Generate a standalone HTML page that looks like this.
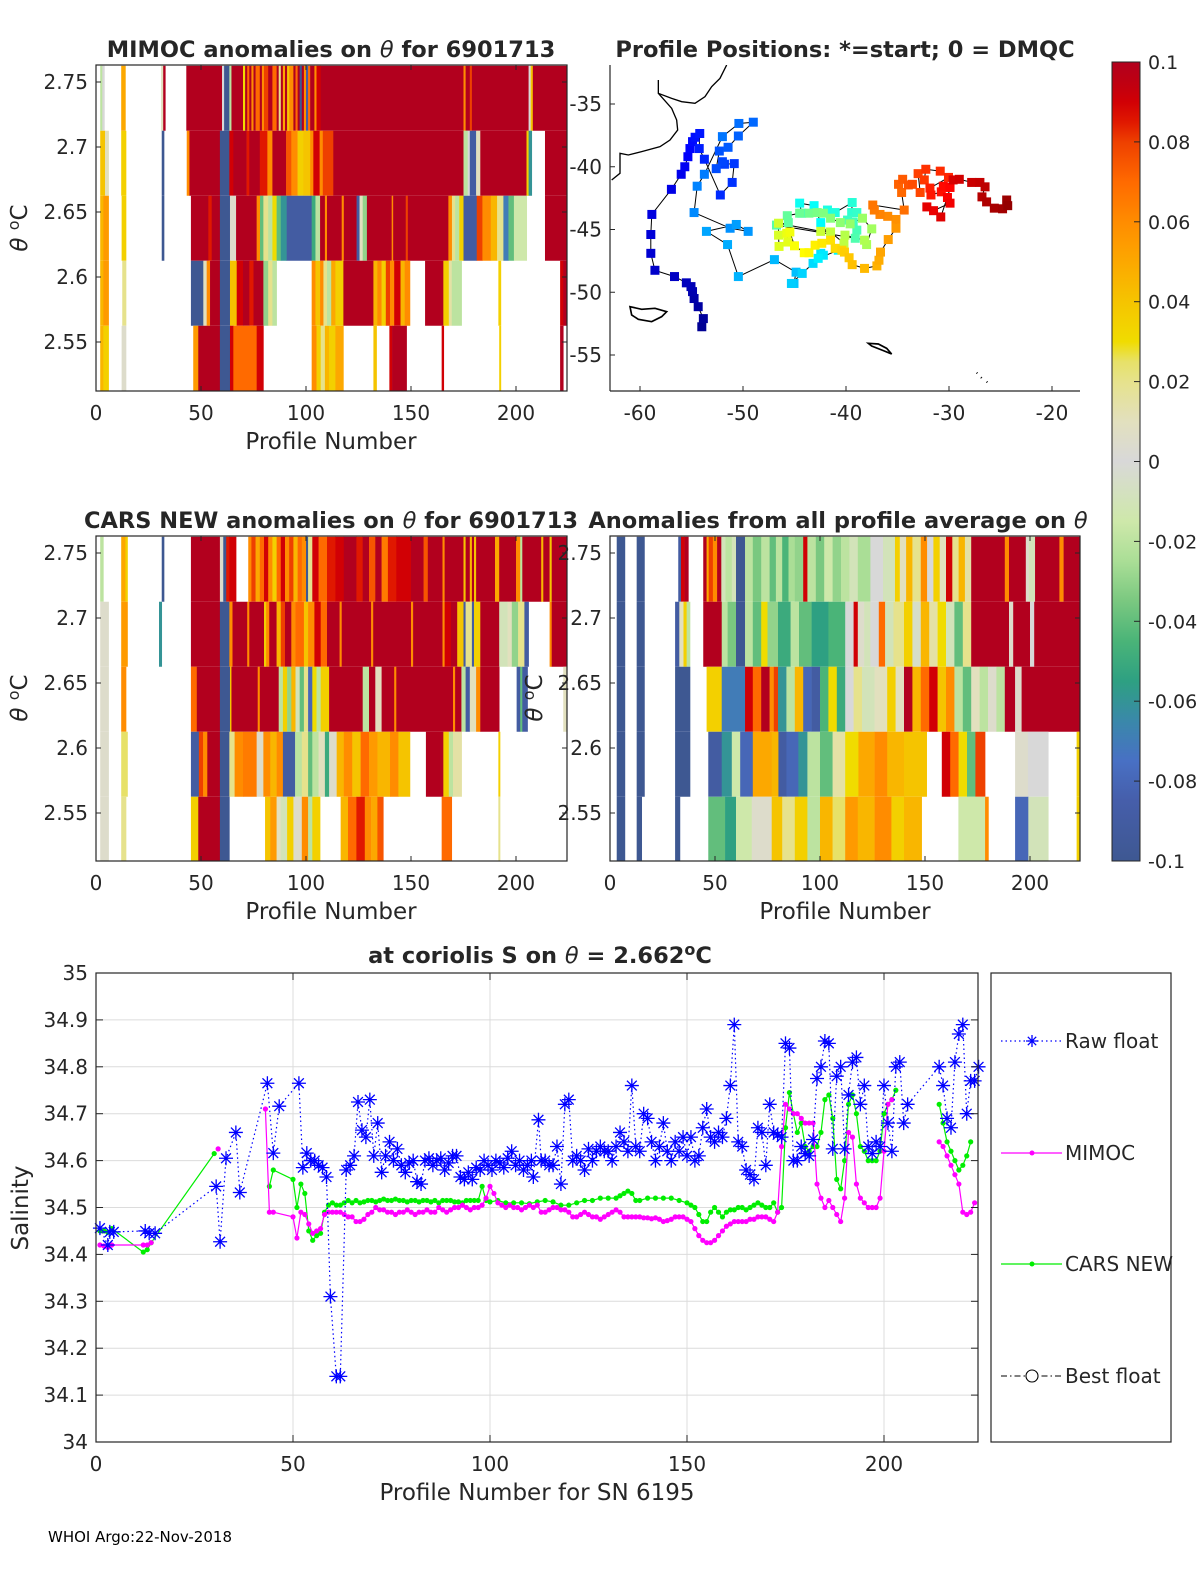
<!DOCTYPE html>
<html><head><meta charset="utf-8">
<style>
html,body{margin:0;padding:0;background:#fff;}
svg{display:block;font-family:"DejaVu Sans","Liberation Sans",sans-serif;}
</style></head>
<body>
<svg id="fig" width="1200" height="1575" viewBox="0 0 1200 1575" xmlns="http://www.w3.org/2000/svg">
<rect x="0" y="0" width="1200" height="1575" fill="#fff"/>
<defs>
<clipPath id="clipP1"><rect x="96" y="65" width="471" height="326"/></clipPath>
<clipPath id="clipP3"><rect x="96" y="536" width="471" height="325"/></clipPath>
<clipPath id="clipP4"><rect x="610" y="536" width="470" height="325"/></clipPath>
<clipPath id="clipMap"><rect x="610" y="65" width="470" height="326"/></clipPath>
<linearGradient id="cbGrad" x1="0" y1="1" x2="0" y2="0"></linearGradient>
</defs>
<g id="layer"></g>
<g clip-path="url(#clipMap)">
<g transform="translate(605,60) scale(0.33333)" fill="none" stroke="#000" stroke-width="4">
<path d="M365,15 L345,55 L320,80 L300,110 L270,130 L230,125 L200,115 L160,100 L160,60"/>
<path d="M160,100 L200,145 L215,180 L218,210 L195,240 L165,260 L110,275 L70,285 L45,280 L45,340 L20,360"/>
<path d="M75,740 L110,748 L150,745 L185,755 L170,770 L140,785 L100,778 L80,765 Z" stroke-width="5"/>
<path d="M790,850 L820,852 L845,865 L860,882 L835,872 L800,858 Z" stroke-width="5"/>
<path d="M1115,938 L1117,940 M1128,952 L1130,954 M1145,965 L1147,967" stroke-width="6"/>
</g></g>
</svg>
<script>
const thetaEdges = [2.7625, 2.7125, 2.6625, 2.6125, 2.5625, 2.5125];
const mimocRows = [
[[2,3,-.02],[3,4,0],[12,14,.05],[31,32,.01],[32,33,.1],[43,60,.1],[60,61,0],[61,63.5,-.1],[63.5,64.5,-.02],[64.5,70,.1],[70,71,.03],[71,72,.1],[72,73,.07],[73,74,.1],[74,75,.06],[75,76,.1],[76,78,.07],[78,79,.1],[79,80,.06],[80,82,.08],[82,84,.1],[84,86,.07],[86,87,.1],[87,88,.02],[88,89,.1],[89,90,.05],[90,91,.1],[91,92,.04],[92,94,.06],[94,95,.1],[95,96,.07],[96,97,.1],[97,98,-.1],[98,99,.1],[99,100,.06],[100,101,-.09],[101,102,.07],[102,104,.1],[104,105,.06],[105,107,.09],[107,175,.1],[175,176,.06],[176,178,.1],[178,179,.08],[179,206,.1],[206,207,0],[207,208,.04],[208,224,.1]],
[[2,4.3,.04],[4.3,6,.01],[12,14.3,.035],[31.3,32.4,-.1],[43.2,44.5,.06],[44.5,59,.1],[59,63.5,-.1],[63.5,65.4,.09],[65.4,71.7,.1],[71.7,73,.085],[73,78,.1],[78,81.6,.085],[81.6,84,.06],[84,90.5,.1],[90.5,93,.075],[93,96,.06],[96,98.7,.035],[98.7,102,.04],[102,103.5,.06],[103.5,106.5,.09],[106.5,108,.06],[108,113,.08],[113,175,.1],[175,177,-.02],[177,178,0],[178,181,-.09],[181,183,.01],[183,205,.1],[205,206,.035],[206,207.5,-.06],[213.8,224,.1]],
[[2,3.5,.045],[3.5,6,.055],[12.2,14.3,.035],[31.3,32.4,-.1],[45.2,53.5,.1],[53.5,55.1,.085],[55.1,59,.1],[59,63.8,-.1],[63.8,66.7,.005],[66.7,76.5,.1],[76.5,78.1,.06],[78.1,79.7,-.04],[79.7,82,.02],[82,84,-.02],[84,86,.03],[86,88,-.04],[88,90.8,-.06],[90.8,102.7,-.09],[102.7,104.5,-.05],[104.5,106.7,-.02],[106.7,109,.1],[109,110,.06],[110,117,.1],[117,118,.06],[118,124.1,.1],[124.1,125.5,-.09],[125.5,127,.01],[127,129,-.03],[129,140.8,.1],[140.8,141.5,.06],[141.5,147.5,.1],[147.5,148.5,.08],[148.5,167.8,.1],[167.8,169.5,.06],[169.5,171,.02],[171,173,-.02],[173,175,.035],[175,181.3,-.09],[181.3,184,.08],[184,188,.06],[188,191,.045],[191,194,.02],[194,196.4,-.07],[196.4,199,-.04],[199,205.1,-.015],[213.8,224,.1]],
[[2,3.5,.045],[3.5,6,.055],[12.5,14.3,.02],[45.2,51.1,-.1],[51.1,52.7,.01],[52.7,54.3,.06],[54.3,59,.1],[59,63.8,-.1],[63.8,67,.04],[67,70,.09],[70,73,.1],[73,75,.085],[75,79.7,.1],[79.7,82,-.03],[82,84,.02],[84,86,-.02],[102.7,104.5,.06],[104.5,106.7,.04],[106.7,108.3,.06],[108.3,110,.02],[110,112,-.02],[112,114,.05],[114,117.8,.035],[117.8,132.1,.1],[132.1,134,.045],[134,136,.06],[136,138,.035],[138,140,.08],[140,142,.06],[142,145,.09],[145,147,.045],[147,149.5,.06],[156.7,165.4,.1],[165.4,168,.035],[168,169.4,.015],[169.4,174.1,-.02],[191.6,192.8,.035],[221,222.5,.09],[222.5,224,.1]],
[[2,3.5,.045],[3.5,6,.035],[12.2,14.3,.005],[46.3,48.7,.055],[48.7,59,.1],[59,63.8,-.1],[63.8,65.4,.09],[65.4,76.5,.07],[76.5,79.7,.09],[102.7,105,.06],[105,107,.035],[107,109,.02],[109,111,.045],[111,114,.035],[114,117.8,.05],[132.1,133.6,.04],[139.7,141,.09],[141,147.9,.1],[164.6,165.6,.09],[192,192.8,.035],[221,222.5,.1]]
];
const carsRows = [
[[2,3.5,-.02],[12,14,.05],[14,15,.035],[31.3,32.4,-.1],[45.2,59,.1],[59,60.6,.005],[60.6,62,-.1],[62,63.5,.085],[63.5,66.7,.09],[72.5,74,.06],[74,76,.08],[76,78,.05],[78,80,.07],[80,82,.09],[82,84,.06],[84,86,.035],[86,88,.07],[88,90,.09],[90,92,.06],[92,94,.08],[94,96,.045],[96,98,.07],[98,100,.06],[100,101,-.1],[101,103,.02],[103,106,.09],[106,110,.07],[110,114,.085],[114,118,.09],[118,124,.1],[124,127,.085],[127,130,.1],[130,133,.075],[133,136,.1],[136,139,.065],[139,143,.085],[143,150,.09],[150,156,.1],[156,158,.075],[158,165,.1],[165,166,.06],[166,175,.1],[175,176,.04],[176,178,.1],[178,179,.045],[179,180,.1],[180,181,.04],[181,190,.1],[190,192,.05],[192,200,.1],[200,202,.06],[202,203,-.02],[203,212,.1],[212,213,.045],[213,216,.1],[216,217,.04],[217,224,.1]],
[[2,6,.005],[12,15,.055],[30,31.3,-.06],[45.2,59,.1],[59,63.5,-.1],[63.5,65,.06],[65,72,.1],[72,73,.06],[73,80,.1],[80,81,.035],[81,82.5,.06],[82.5,86,.1],[86,88,.045],[88,90,.08],[90,93,.1],[93,95,.06],[95,99,.07],[99,101,.04],[101,104,.06],[104,107,.09],[107,110,.07],[110,116,.1],[116,117,.06],[117,131,.1],[131,132,.06],[132,150,.1],[150,151,.06],[151,165,.1],[165,166,.06],[166,169,.09],[169,172,.1],[172,175,.04],[175,176,-.09],[176,179,.02],[179,180,-.09],[180,183,.035],[183,192,.1],[192,196,-.01],[196,198,.01],[198,201,-.03],[201,204,.02],[204,206,-.09],[216,217,.06],[217,224,.1]],
[[2,6,.005],[12,14.3,.06],[45.2,48,.07],[48,59,.1],[59,63.8,-.1],[63.8,64.5,.04],[64.5,77,.1],[77,78,.06],[78,87,.1],[87,89,-.02],[89,91,.035],[91,93,-.03],[93,95,.045],[95,97,-.01],[97,99,-.04],[99,101,.02],[101,103,-.08],[103,105,.03],[105,107,-.02],[107,111,.035],[111,127,.1],[127,130,-.02],[130,133,.1],[133,136,.01],[136,142,.1],[142,143,.06],[143,170,.1],[170,171,.06],[171,174,.1],[174,176,-.02],[176,178,-.09],[178,181,.01],[181,183,.06],[183,192,.1],[200.3,202,-.09],[202,203,-.04],[203,205.5,-.09],[222.5,224,.01]],
[[2,6,.005],[12,15,.025],[45.2,49,-.09],[49,51,.08],[51,53,.06],[53,59,.1],[59,63.5,-.1],[63.5,66,.02],[66,70,.06],[70,76.5,.065],[76.5,79.7,.005],[79.7,83,.06],[83,86,.045],[86,89,.06],[89,94.8,-.09],[94.8,98,-.02],[98,101,.02],[101,103,-.04],[103,106,-.02],[106,109,.01],[109,111,-.05],[111,114.6,.005],[114.6,118,.045],[118,122,.06],[122,126,.04],[126,130,.07],[130,134,.055],[134,140,.045],[140,144,.06],[144,149.5,.04],[157.1,165.4,.1],[165.4,168,.035],[168,170,-.02],[170,174.1,.015],[191.6,192.4,.035]],
[[2,6,.005],[12,14.3,.02],[45.2,48.7,.035],[48.7,59,.1],[59,63.5,-.1],[80.5,83,.04],[83,86,.055],[86,88,.01],[88,91,-.01],[91,94,.035],[94,98,.005],[98,101,.06],[101,103,-.02],[103,106.7,.035],[116.5,120,.045],[120,124,.07],[124,128,.085],[128,131,.06],[131,134,.05],[134,136.8,.075],[164.6,169.4,.07],[191.6,192.4,.02]]
];
const avgRows = [
[[3.2,7.1,-.1],[12.7,16.4,-.1],[32.5,33.8,-.09],[33.8,35.5,.09],[35.5,37.3,.1],[44.4,46,.1],[46,47,.05],[47,49,.08],[49,51,.06],[51,53,.1],[53,55,-.01],[55,58,-.02],[58,60,-.01],[60,64.3,-.1],[64.3,68,-.02],[68,72,-.035],[72,76,-.02],[76,79,-.04],[79,82,-.02],[82,85,-.045],[85,88,-.025],[88,92,-.03],[92,94,.09],[94,98,-.02],[98,102,-.035],[102,106,-.015],[106,110,-.03],[110,114,-.02],[114,118,-.01],[118,124,-.025],[124,130,0],[130,135.7,-.01],[135.7,138,.035],[138,141,.01],[141,144,.045],[144,148,.02],[148,151,.06],[151,154,0],[154,157,.035],[157,160,.01],[160,163,.09],[163,166,.02],[166,169,.045],[169,172,.015],[172,188,.1],[188,190,.06],[190,198,.1],[198,199.5,.005],[199.5,202.4,-.01],[202.4,214,.1],[214,216,.06],[216,224,.1]],
[[3.2,7.1,-.1],[12.7,16.4,-.1],[31,33,-.09],[33,35,.01],[35,36.5,.035],[36.5,38.1,-.02],[44.4,53.2,.1],[53.2,56,-.02],[56,60,-.035],[60,64.3,-.1],[64.3,68,-.02],[68,72,-.04],[72,75,.03],[75,80,-.03],[80,86,-.05],[86,90,-.02],[90,96,-.04],[96,104,-.055],[104,112,-.045],[112,116,0],[116,118,.09],[118,121,.005],[121,124,-.01],[124,128,0],[128,131,.07],[131,135,-.01],[135,140,.02],[140,144,.035],[144,148,-.005],[148,152,.045],[152,156,.015],[156,160,.03],[160,164,-.01],[164,168,-.04],[168,172,.02],[172,190,.1],[190,192,.005],[192,200,.1],[200,202,0],[202,224,.1]],
[[3.2,7.1,-.1],[12.7,16.4,-.1],[31,38.1,-.1],[46,53.2,.035],[53.2,64.3,-.07],[64.3,68,.09],[68,72,.07],[72,76,.1],[76,78,.06],[78,80,.08],[80,84,-.06],[84,88,-.02],[88,92,.045],[92,96,-.08],[96,100,-.09],[100,104,-.045],[104,108,.03],[108,112,-.05],[112,116,0],[116,120,.02],[120,126,-.01],[126,132,.01],[132,136,.035],[136,140,.01],[140,144,.1],[144,148,.045],[148,152,.07],[152,156,.09],[156,160,.04],[160,164,.06],[164,168,-.02],[168,172,-.04],[172,176,.01],[176,180,-.02],[180,184,.005],[184,188,-.02],[188,192.9,.1],[192.9,196,.005],[196,224,.1]],
[[3.2,7.1,-.1],[12.7,16.4,-.1],[31,38.1,-.1],[46.8,53.2,-.09],[53.2,58,-.06],[58,62,-.015],[62,68,-.08],[68,77,.05],[77,80.2,.045],[80.2,84,-.09],[84,89.7,-.08],[89.7,94,-.06],[94,100,-.02],[100,106,-.04],[106,112,.015],[112,118.3,.03],[118.3,126,.05],[126,132,.06],[132,140,.045],[140,150.8,.04],[158,162,.09],[162,166,.07],[166,170,.03],[170,174,-.04],[174,178.6,.08],[192.9,199,.005],[199,208.7,0],[222.2,223.8,.035]],
[[3.2,7.1,-.1],[12.7,15.1,-.1],[31,33.3,-.1],[46.8,54.8,-.04],[54.8,60,-.055],[60,67.5,-.015],[67.5,77,.005],[77,82,.04],[82,88,.02],[88,94,.035],[94,100,-.02],[100,106,.045],[106,112,.025],[112,118,.055],[118,126,.045],[126,134,.06],[134,140,.035],[140,148.4,.045],[165.9,178.6,-.015],[178.6,180.2,.06],[192.9,199.2,-.08],[199.2,208.7,-.01],[222.2,223.8,.035]]
];
const thetaTicks = [2.55, 2.6, 2.65, 2.7, 2.75];
const thetaTickLabels = ["2.55","2.6","2.65","2.7","2.75"];
const profTicks = [0, 50, 100, 150, 200];
const cbTicks = [0.1,0.08,0.06,0.04,0.02,0,-0.02,-0.04,-0.06,-0.08,-0.1];
const cbTickLabels = ["0.1","0.08","0.06","0.04","0.02","0","-0.02","-0.04","-0.06","-0.08","-0.1"];

const trackLon = [-54.0,-53.85,-54.35,-54.75,-54.9,-55.05,-55.5,-56.65,-58.55,-58.95,-58.95,-58.85,-56.95,-56.0,-55.65,-55.35,-55.15,-54.9,-54.65,-54.2,-54.25,-53.75,-52.2,-51.05,-50.85,-51.8,-52.0,-52.6,-52.3,-51.45,-50.45,-49.0,-50.4,-52.0,-53.75,-54.45,-54.75,-51.25,-49.5,-50.65,-53.55,-51.5,-50.45,-46.95,-44.85,-45.05,-45.3,-44.25,-43.2,-42.45,-42.2,-42.7,-40.75,-42.45,-43.1,-44.5,-44.3,-41.8,-41.05,-39.4,-39.45,-38.95,-39.85,-39.3,-38.95,-39.1,-46.75,-45.6,-45.7,-44.5,-43.6,-42.8,-42.2,-41.5,-40.55,-39.6,-38.4,-37.5,-38.0,-38.2,-40.1,-40.2,-41.5,-42.45,-46.55,-46.55,-46.5,-45.65,-45.75,-45.45,-45.0,-44.05,-43.6,-43.0,-42.35,-41.5,-41.05,-40.4,-40.15,-39.7,-39.4,-38.2,-37.0,-36.8,-36.65,-35.9,-35.15,-35.15,-35.95,-36.7,-37.25,-37.4,-34.35,-34.6,-34.9,-34.5,-33.95,-33.55,-32.8,-33.0,-32.4,-32.25,-30.85,-30.05,-31.85,-31.75,-30.75,-30.55,-29.9,-30.15,-29.9,-31.5,-32.15,-30.8,-29.6,-29.0,-27.8,-27.0,-26.5,-26.8,-26.35,-25.6,-24.8,-24.4,-24.3];
const trackLat = [-52.75,-52.1,-51.15,-50.5,-49.95,-49.55,-49.25,-48.75,-48.25,-46.9,-45.4,-43.8,-41.8,-40.6,-40.0,-39.2,-38.55,-38.0,-37.65,-37.35,-38.55,-39.4,-42.25,-41.25,-39.75,-39.8,-39.6,-40.15,-38.75,-38.45,-37.55,-36.45,-36.55,-37.6,-40.6,-41.55,-43.65,-44.9,-45.15,-44.6,-45.15,-46.2,-48.75,-47.4,-48.4,-49.3,-49.3,-48.5,-47.7,-46.9,-47.05,-47.3,-46.65,-44.45,-43.1,-42.9,-43.7,-43.45,-43.65,-42.85,-43.65,-43.65,-44.25,-44.4,-45.05,-45.7,-44.65,-44.45,-43.9,-43.7,-43.7,-43.65,-43.7,-44.1,-44.45,-44.55,-44.1,-44.95,-46.2,-45.85,-45.45,-46.1,-45.2,-45.15,-44.5,-45.45,-46.35,-46.0,-45.3,-45.2,-46.3,-46.85,-46.85,-46.25,-46.1,-45.85,-46.5,-46.65,-46.8,-47.25,-47.8,-48.1,-47.9,-47.45,-46.8,-45.8,-44.9,-44.2,-43.95,-43.8,-43.45,-43.05,-43.45,-42.05,-41.4,-41.0,-41.45,-41.4,-42.05,-40.55,-41.05,-40.2,-40.35,-40.85,-41.7,-42.25,-42.0,-41.55,-41.65,-42.45,-42.9,-43.5,-43.2,-44.0,-41.05,-41.0,-41.25,-41.25,-41.6,-42.4,-42.8,-43.3,-43.35,-42.65,-43.1];
const lonTicks = [-60,-50,-40,-30,-20];
const latTicks = [-35,-40,-45,-50,-55];

const rawP = [1,3,3.5,4.5,12.5,13.5,15,30.5,31.5,33,35.5,36.5,43.5,45,46.5,51.5,52.5,53.5,54.5,55.5,56.5,57.5,58.5,59.5,61,62,63.5,64.5,65.5,66.5,67.5,68.5,69.5,70.5,71.5,72.5,73.5,74.5,75.5,76.5,77.5,78.5,79.5,80.5,81.5,82.5,83.5,84.5,85.5,86.5,87.5,88.5,89.5,90.5,91.5,92.5,93.5,94.5,95.5,96.5,97.5,98.5,99.5,100.5,101.5,102.5,103.5,104.5,105.5,106.5,107.5,108.5,109.5,110.5,111,112.3,113,114,115,116,117,118,119,120,121,122,123,124,125,126,127,128,129,130,131,132,133,134,135,136,137,138,139,140,141,142,143,144,145,146,147,148,149,150,151,152,153,154,155,156,157,158,159,160,161,162,163,164,165,166,167,168,169,170,171,172,173,174,175,176,177,178,179,180,181,182,183,184,185,186,187,188,189,190,191,192,193,194,195,196,197,198,199,200,201,202,203,204,205,206,214,215,216,217,218,219,220,221,222,223,224];
const rawS = [34.456,34.42,34.448,34.448,34.45,34.445,34.445,34.545,34.427,34.605,34.66,34.532,34.765,34.616,34.716,34.765,34.585,34.616,34.6,34.6,34.59,34.585,34.565,34.31,34.14,34.14,34.58,34.59,34.61,34.725,34.665,34.65,34.73,34.61,34.68,34.575,34.61,34.64,34.6,34.625,34.59,34.575,34.595,34.6,34.555,34.55,34.6,34.605,34.59,34.6,34.605,34.58,34.595,34.61,34.61,34.565,34.56,34.575,34.56,34.585,34.58,34.6,34.59,34.58,34.6,34.595,34.585,34.605,34.62,34.59,34.6,34.58,34.59,34.6,34.565,34.687,34.6,34.6,34.59,34.59,34.63,34.55,34.72,34.73,34.6,34.61,34.6,34.58,34.625,34.6,34.62,34.63,34.62,34.62,34.6,34.63,34.66,34.64,34.62,34.76,34.63,34.62,34.7,34.69,34.64,34.6,34.63,34.68,34.62,34.6,34.64,34.62,34.65,34.61,34.65,34.6,34.61,34.67,34.71,34.65,34.64,34.66,34.65,34.69,34.76,34.89,34.64,34.63,34.58,34.57,34.56,34.67,34.66,34.59,34.72,34.66,34.655,34.65,34.85,34.84,34.6,34.6,34.63,34.615,34.61,34.645,34.775,34.8,34.855,34.85,34.625,34.78,34.8,34.625,34.74,34.81,34.82,34.72,34.76,34.63,34.615,34.64,34.63,34.76,34.68,34.62,34.8,34.81,34.68,34.72,34.8,34.76,34.69,34.67,34.81,34.87,34.89,34.7,34.77,34.77,34.8];
const mimocP = [1,2,3,4,12,13,14,null,31,null,43,44,45,50,51,52,53,54,55,56,57,58,59,60,61,62,63,64,65,66,67,68,69,70,71,72,73,74,75,76,77,78,79,80,81,82,83,84,85,86,87,88,89,90,91,92,93,94,95,96,97,98,99,100,101,102,103,104,105,106,107,108,109,110,111,112,113,114,115,116,117,118,119,120,121,122,123,124,125,126,127,128,129,130,131,132,133,134,135,136,137,138,139,140,141,142,143,144,145,146,147,148,149,150,151,152,153,154,155,156,157,158,159,160,161,162,163,164,165,166,167,168,169,170,171,172,173,174,175,176,177,178,179,180,181,182,183,184,185,186,187,188,189,190,191,192,193,194,195,196,197,198,199,200,201,202,null,214,215,216,217,218,219,220,221,222,223];
const mimocS = [34.42,34.418,34.415,34.42,34.42,34.42,34.425,null,34.625,null,34.71,34.49,34.49,34.48,34.435,34.49,34.485,34.465,34.445,34.45,34.455,34.485,34.49,34.49,34.49,34.49,34.485,34.48,34.48,34.47,34.47,34.475,34.485,34.49,34.5,34.495,34.495,34.49,34.49,34.485,34.49,34.49,34.495,34.49,34.485,34.49,34.49,34.495,34.49,34.49,34.5,34.495,34.49,34.495,34.5,34.5,34.505,34.5,34.495,34.5,34.5,34.505,34.52,34.545,34.53,34.51,34.505,34.5,34.505,34.5,34.5,34.495,34.5,34.505,34.5,34.505,34.49,34.49,34.495,34.5,34.5,34.495,34.495,34.49,34.48,34.48,34.485,34.49,34.485,34.48,34.48,34.475,34.48,34.485,34.49,34.495,34.49,34.48,34.48,34.48,34.48,34.48,34.478,34.478,34.476,34.478,34.475,34.47,34.472,34.475,34.48,34.48,34.48,34.475,34.47,34.455,34.44,34.43,34.425,34.425,34.43,34.44,34.45,34.46,34.465,34.47,34.47,34.47,34.47,34.475,34.475,34.48,34.48,34.48,34.475,34.47,34.49,34.63,34.72,34.71,34.7,34.7,34.69,34.68,34.68,34.68,34.55,34.52,34.5,34.515,34.5,34.485,34.47,34.52,34.66,34.65,34.55,34.52,34.51,34.5,34.5,34.5,34.52,34.62,34.72,34.73,null,34.64,34.63,34.61,34.59,34.57,34.55,34.49,34.485,34.49,34.51];
const carsP = [1,2,3,4,12,13,14,30,null,44,45,50,51,52,53,54,55,56,57,58,59,60,61,62,63,64,65,66,67,68,69,70,71,72,73,74,75,76,77,78,79,80,81,82,83,84,85,86,87,88,89,90,91,92,93,94,95,96,97,98,99,100,102,104,106,108,110,112,114,116,118,120,122,124,126,128,130,132,133,134,135,136,137,138,140,142,144,146,148,150,151,152,153,154,155,156,157,158,159,160,161,162,163,164,165,166,167,168,169,170,171,172,173,174,175,176,177,178,179,180,181,182,183,184,185,186,187,188,189,190,191,192,193,194,195,196,197,198,199,200,201,202,203,null,214,215,216,217,218,219,220,221,222];
const carsS = [34.45,34.45,34.447,34.455,34.405,34.41,34.425,34.615,null,34.545,34.58,34.56,34.5,34.55,34.53,34.45,34.43,34.44,34.445,34.49,34.505,34.51,34.505,34.505,34.51,34.515,34.51,34.515,34.51,34.512,34.515,34.515,34.512,34.515,34.518,34.515,34.515,34.518,34.515,34.515,34.512,34.515,34.515,34.512,34.515,34.515,34.512,34.515,34.51,34.515,34.515,34.515,34.512,34.512,34.51,34.515,34.515,34.515,34.515,34.545,34.515,34.512,34.515,34.51,34.51,34.51,34.508,34.512,34.515,34.512,34.505,34.505,34.51,34.515,34.515,34.52,34.52,34.52,34.525,34.53,34.535,34.53,34.515,34.515,34.52,34.52,34.52,34.52,34.515,34.51,34.505,34.5,34.485,34.47,34.47,34.49,34.5,34.49,34.48,34.49,34.495,34.495,34.5,34.5,34.495,34.5,34.505,34.51,34.505,34.5,34.5,34.51,34.49,34.5,34.67,34.745,34.7,34.66,34.68,34.63,34.62,34.63,34.63,34.66,34.73,34.74,34.69,34.56,34.54,34.6,34.72,34.74,34.7,34.63,34.62,34.6,34.6,34.6,34.62,34.7,34.72,34.73,34.75,null,34.72,34.68,34.64,34.62,34.6,34.58,34.59,34.61,34.64];
const salTicks = [34,34.1,34.2,34.3,34.4,34.5,34.6,34.7,34.8,34.9,35];
const salTickLabels = ["34","34.1","34.2","34.3","34.4","34.5","34.6","34.7","34.8","34.9","35"];
const legendLabels = ["Raw float","MIMOC","CARS NEW","Best float"];

const NS = "http://www.w3.org/2000/svg";
const layer = document.getElementById('layer');
const TICK = 20, TITLE = 22.5, ATITLE = 23;
function mk(tag, attrs, parent){
  const e = document.createElementNS(NS, tag);
  for (const k in attrs) e.setAttribute(k, attrs[k]);
  (parent || layer).appendChild(e);
  return e;
}
function txt(str, x, y, size, anchor, weight, parent){
  const t = mk('text', {x:x, y:y, 'font-size':size, 'text-anchor':anchor||'start', fill:'#262626', 'font-weight':weight||'normal'}, parent);
  t.textContent = str;
  return t;
}
const cmStops = [
[-0.1,[62,88,146]],[-0.085,[70,94,170]],[-0.075,[72,112,196]],[-0.065,[58,136,170]],[-0.055,[46,160,130]],[-0.045,[74,180,120]],[-0.035,[122,200,128]],[-0.025,[170,222,150]],[-0.015,[206,232,170]],[-0.005,[214,222,200]],
[0.0,[216,216,216]],[0.01,[226,224,190]],[0.02,[230,226,140]],[0.027,[232,224,90]],[0.03,[240,220,0]],[0.04,[245,196,0]],[0.05,[252,168,0]],[0.06,[255,140,0]],[0.07,[255,106,0]],[0.08,[238,64,0]],[0.088,[216,0,0]],[0.095,[190,0,18]],[0.1,[178,0,30]]];
function cmap(v){
  if (v <= cmStops[0][0]) return 'rgb('+cmStops[0][1].join(',')+')';
  for (let i=1;i<cmStops.length;i++){
    if (v <= cmStops[i][0]){
      const a=cmStops[i-1], b=cmStops[i], t=(v-a[0])/(b[0]-a[0]);
      const c=a[1].map((x,j)=>Math.round(x+(b[1][j]-x)*t));
      return 'rgb('+c.join(',')+')';
    }
  }
  return 'rgb('+cmStops[cmStops.length-1][1].join(',')+')';
}
function jet(t){
  const r = Math.max(0,Math.min(1,1.5-Math.abs(4*t-3)));
  const g = Math.max(0,Math.min(1,1.5-Math.abs(4*t-2)));
  const b = Math.max(0,Math.min(1,1.5-Math.abs(4*t-1)));
  return 'rgb('+Math.round(r*255)+','+Math.round(g*255)+','+Math.round(b*255)+')';
}

function heatPanel(rows, box, thetaTopY, clipId, name){
  const xS = p => box.x0 + p*2.1;
  const yT = t => thetaTopY + (2.75 - t)*1300;
  const g = mk('g', {'clip-path':'url(#'+clipId+')'});
  
  
  rows.forEach((runs, ri) => {
    const yTop = yT(thetaEdges[ri]), yBot = yT(thetaEdges[ri+1]);
    runs.forEach(r => {
      const c = mk('rect', {x:xS(r[0]), y:yTop, width:Math.max(0.6,xS(r[1])-xS(r[0])+0.3), height:yBot-yTop, fill:cmap(r[2])}, g);
      
      
    });
  });
  axesBox(box, name);
  profTicks.forEach(p => {
    const x = xS(p);
    mk('line', {x1:x, y1:box.y1, x2:x, y2:box.y1-5, stroke:'#262626', 'stroke-width':1});
    mk('line', {x1:x, y1:box.y0, x2:x, y2:box.y0+5, stroke:'#262626', 'stroke-width':1});
    const t = txt(String(p), x, box.y1+29, TICK, 'middle');
    
    
  });
  thetaTicks.forEach(v => {
    const y = yT(v);
    mk('line', {x1:box.x0, y1:y, x2:box.x0+5, y2:y, stroke:'#262626', 'stroke-width':1});
    mk('line', {x1:box.x1, y1:y, x2:box.x1-5, y2:y, stroke:'#262626', 'stroke-width':1});
  });
  return yT;
}
function yTickLabels(box, yT, name){
  thetaTicks.forEach((v,i) => {
    const t = txt(thetaTickLabels[i], box.x0-8, yT(v)+7, TICK, 'end');
    
    
  });
}
function axesBox(box, name){
  const r = mk('rect', {x:box.x0, y:box.y0, width:box.x1-box.x0, height:box.y1-box.y0, fill:'none', stroke:'#262626', 'stroke-width':1.2});
  
  
}
function thetaYLabel(x, y, name){
  const t = mk('text', {x:0, y:0, 'font-size':ATITLE, 'text-anchor':'middle', fill:'#262626', transform:'translate('+x+','+y+') rotate(-90)'});
  t.innerHTML = '<tspan font-style="italic">θ</tspan> <tspan dy="-8" font-size="16">o</tspan><tspan dy="8">C</tspan>';
  
  
}

const box1 = {x0:96, x1:567, y0:65, y1:391};
const box3 = {x0:96, x1:567, y0:536, y1:861};
const box4 = {x0:610, x1:1080, y0:536, y1:861};

const yT1 = heatPanel(mimocRows, box1, 82, 'clipP1', 'mimoc-panel');
const yT4 = heatPanel(avgRows, box4, 553, 'clipP4', 'average-panel');
const yT3 = heatPanel(carsRows, box3, 553, 'clipP3', 'cars-panel');
yTickLabels(box1, yT1, 'mimoc-panel');
yTickLabels(box3, yT3, 'cars-panel');
yTickLabels(box4, yT4, 'average-panel');
thetaYLabel(27, 228, 'mimoc-y-axis-title');
thetaYLabel(27, 698, 'cars-y-axis-title');
thetaYLabel(542, 698, 'average-y-axis-title');

let tt;
tt = txt('', 331, 57, TITLE, 'middle', 'bold'); tt.innerHTML = 'MIMOC anomalies on <tspan font-style="italic" font-weight="normal">θ</tspan>  for 6901713';
 
tt = txt('Profile Positions: *=start; 0 = DMQC', 845, 57, TITLE, 'middle', 'bold');
 
tt = txt('', 331, 528, TITLE, 'middle', 'bold'); tt.innerHTML = 'CARS NEW anomalies on <tspan font-style="italic" font-weight="normal">θ</tspan> for 6901713';
 
tt = txt('', 838, 528, TITLE, 'middle', 'bold'); tt.innerHTML = 'Anomalies from all profile average on <tspan font-style="italic" font-weight="normal">θ</tspan>';
 
tt = txt('Profile Number', 331, 449, ATITLE, 'middle');
 
tt = txt('Profile Number', 331, 919, ATITLE, 'middle');
 
tt = txt('Profile Number', 845, 919, ATITLE, 'middle');
 

const boxM = {x0:610, x1:1080, y0:65, y1:391};
const lonX = l => 640 + (l+60)*10.3;
const latY = a => 104 + (-35-a)*12.55;
const mg = mk('g', {'clip-path':'url(#clipMap)'});


let dpath = '';
trackLon.forEach((l,i) => { dpath += (i?'L':'M') + lonX(l).toFixed(1) + ',' + latY(trackLat[i]).toFixed(1); });
const tl = mk('path', {d:dpath, fill:'none', stroke:'#000', 'stroke-width':1}, mg);


trackLon.forEach((l,i) => {
  const s = mk('rect', {x:lonX(l)-4.5, y:latY(trackLat[i])-4.5, width:9, height:9, fill:jet(0.02 + 0.96*i/(trackLon.length-1))}, mg);
  
  
});
const mb1 = mk('line', {x1:boxM.x0, y1:boxM.y0, x2:boxM.x0, y2:boxM.y1, stroke:'#262626', 'stroke-width':1.2});
 
const mb2 = mk('line', {x1:boxM.x0, y1:boxM.y1, x2:boxM.x1, y2:boxM.y1, stroke:'#262626', 'stroke-width':1.2});
 
lonTicks.forEach(l => {
  const x = lonX(l);
  mk('line', {x1:x, y1:boxM.y1, x2:x, y2:boxM.y1-5, stroke:'#262626'});
  const t = txt(String(l), x, boxM.y1+29, TICK, 'middle');
  
  
});
latTicks.forEach(a => {
  const y = latY(a);
  mk('line', {x1:boxM.x0, y1:y, x2:boxM.x0+5, y2:y, stroke:'#262626'});
  const t = txt(String(a), boxM.x0-8, y+7, TICK, 'end');
  
  
});

const cb = {x0:1112, x1:1140, y0:62, y1:861};
const cbY = v => cb.y0 + (0.1 - v)/0.2*(cb.y1-cb.y0);
const grad = document.getElementById('cbGrad');
for (let k=0;k<=40;k++){
  const v = -0.1 + 0.2*k/40;
  const st = document.createElementNS(NS, 'stop');
  st.setAttribute('offset', (k/40).toFixed(3));
  st.setAttribute('stop-color', cmap(v));
  grad.appendChild(st);
}
const cbr = mk('rect', {x:cb.x0, y:cb.y0, width:cb.x1-cb.x0, height:cb.y1-cb.y0, fill:'url(#cbGrad)', stroke:'#262626', 'stroke-width':1});


cbTicks.forEach((v,i) => {
  const y = cbY(v);
  mk('line', {x1:cb.x1, y1:y, x2:cb.x1-6, y2:y, stroke:'#262626'});
  const t = txt(cbTickLabels[i], 1148, y+7, 19, 'start');
  
  
});

const bx = {x0:96, x1:978, y0:973, y1:1442};
const xB = p => bx.x0 + p*3.94;
const yB = s => bx.y0 + (35 - s)*469;
const gg = mk('g', {});


profTicks.forEach(p => { if (p>0) mk('line', {x1:xB(p), y1:bx.y0, x2:xB(p), y2:bx.y1, stroke:'#dcdcdc', 'stroke-width':1}, gg); });
salTicks.forEach(s => { mk('line', {x1:bx.x0, y1:yB(s), x2:bx.x1, y2:yB(s), stroke:'#dcdcdc', 'stroke-width':1}, gg); });
function seriesPath(P, S){
  let d='', pen=false;
  for (let i=0;i<P.length;i++){
    if (P[i]===null){ pen=false; continue; }
    d += (pen?'L':'M') + xB(P[i]).toFixed(1) + ',' + yB(S[i]).toFixed(1);
    pen = true;
  }
  return d;
}
let sp;
sp = mk('path', {d:seriesPath(carsP, carsS), fill:'none', stroke:'#00ee00', 'stroke-width':1.2});
 
carsP.forEach((p,i) => { if (p===null) return;
  const c = mk('circle', {cx:xB(p), cy:yB(carsS[i]), r:2.6, fill:'#00ee00'});
    });
sp = mk('path', {d:seriesPath(mimocP, mimocS), fill:'none', stroke:'#ff00ff', 'stroke-width':1.2});
 
mimocP.forEach((p,i) => { if (p===null) return;
  const c = mk('circle', {cx:xB(p), cy:yB(mimocS[i]), r:2.6, fill:'#ff00ff'});
    });
sp = mk('path', {d:seriesPath(rawP, rawS), fill:'none', stroke:'#0000ff', 'stroke-width':1.2, 'stroke-dasharray':'1.5,3'});
 
function star(x, y, r, parent){
  const d = 'M'+(x-r)+','+y+'L'+(x+r)+','+y+'M'+x+','+(y-r)+'L'+x+','+(y+r)+
    'M'+(x-r*0.7)+','+(y-r*0.7)+'L'+(x+r*0.7)+','+(y+r*0.7)+'M'+(x-r*0.7)+','+(y+r*0.7)+'L'+(x+r*0.7)+','+(y-r*0.7);
  return mk('path', {d:d, stroke:'#0000ff', 'stroke-width':1.3, fill:'none'}, parent);
}
rawP.forEach((p,i) => {
  const s = star(xB(p), yB(rawS[i]), 7);
  
  
});
axesBox(bx, 'salinity');
profTicks.forEach(p => {
  mk('line', {x1:xB(p), y1:bx.y1, x2:xB(p), y2:bx.y1-7, stroke:'#262626'});
  mk('line', {x1:xB(p), y1:bx.y0, x2:xB(p), y2:bx.y0+7, stroke:'#262626'});
  const t = txt(String(p), xB(p), bx.y1+29, TICK, 'middle');
  
  
});
salTicks.forEach((s,i) => {
  mk('line', {x1:bx.x0, y1:yB(s), x2:bx.x0+7, y2:yB(s), stroke:'#262626'});
  mk('line', {x1:bx.x1, y1:yB(s), x2:bx.x1-7, y2:yB(s), stroke:'#262626'});
  const t = txt(salTickLabels[i], bx.x0-8, yB(s)+7, TICK, 'end');
  
  
});
tt = txt('', 540, 963, TITLE, 'middle', 'bold'); tt.innerHTML = 'at coriolis S on <tspan font-style="italic" font-weight="normal">θ</tspan> = 2.662<tspan dy="-8" font-size="16">o</tspan><tspan dy="8">C</tspan>';
 
tt = txt('Profile Number for SN 6195', 537, 1500, ATITLE, 'middle');
 
tt = mk('text', {x:0, y:0, 'font-size':ATITLE, 'text-anchor':'middle', fill:'#262626', transform:'translate(28,1208) rotate(-90)'});
tt.textContent = 'Salinity';
 

const lg = mk('g', {});


const lgBox = mk('rect', {x:991, y:973, width:180, height:469, fill:'#fff', stroke:'#262626', 'stroke-width':1.2}, lg);


const lgY = [1045, 1157, 1268, 1380];
let le;
le = mk('line', {x1:1001, y1:lgY[0]-4, x2:1062, y2:lgY[0]-4, stroke:'#0000ff', 'stroke-width':1.2, 'stroke-dasharray':'1.5,3'}, lg);
 
le = star(1032, lgY[0]-4, 6, lg);  
le = mk('line', {x1:1001, y1:lgY[1]-4, x2:1062, y2:lgY[1]-4, stroke:'#ff00ff', 'stroke-width':1.2}, lg);
 
le = mk('circle', {cx:1032, cy:lgY[1]-4, r:2.5, fill:'#ff00ff'}, lg);
 
le = mk('line', {x1:1001, y1:lgY[2]-4, x2:1062, y2:lgY[2]-4, stroke:'#00ee00', 'stroke-width':1.2}, lg);
 
le = mk('circle', {cx:1032, cy:lgY[2]-4, r:2.5, fill:'#00ee00'}, lg);
 
le = mk('line', {x1:1001, y1:lgY[3]-4, x2:1062, y2:lgY[3]-4, stroke:'#000', 'stroke-width':1.1, 'stroke-dasharray':'6,3,1.5,3'}, lg);
 
le = mk('circle', {cx:1032, cy:lgY[3]-4, r:6, fill:'#fff', stroke:'#000', 'stroke-width':1.1}, lg);
 
legendLabels.forEach((s,i) => {
  const t = txt(s, 1065, lgY[i]+3, TICK, 'start', 'normal', lg);
  
  
});
tt = txt('WHOI Argo:22-Nov-2018', 48, 1542, 15, 'start');
tt.setAttribute('fill', '#000');
 
</script>
</body></html>
